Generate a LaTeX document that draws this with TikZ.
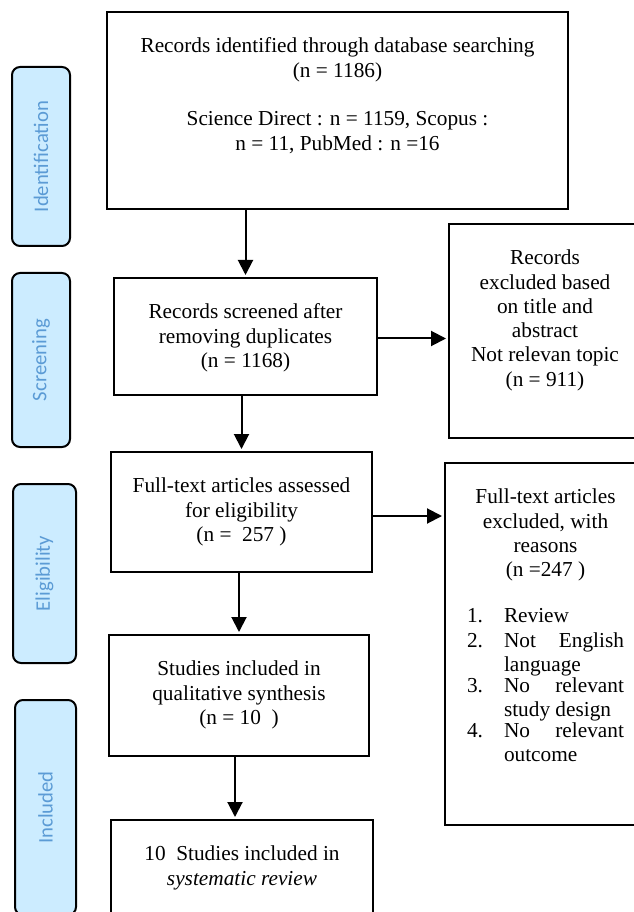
\documentclass[tikz,border=0pt]{standalone}
\usepackage{fontspec}
\setmainfont{Liberation Serif}
\newfontfamily\stagefont{Carlito}
\usetikzlibrary{arrows.meta}

\newlength{\px}
\setlength{\px}{0.75pt}
\definecolor{stagefill}{RGB}{204,236,255}
\definecolor{stagetext}{RGB}{91,155,213}

% box text: width, height, lines (top aligned)
\newcommand{\boxtext}[3]{\begin{minipage}[c][#2\px][t]{#1\px}\centering\vspace*{26\px}#3\end{minipage}}
\newcommand{\reason}[2]{\noindent\hspace*{22\px}\makebox[37\px][l]{#1}\parbox[t]{120\px}{#2}}

\begin{document}
\begin{tikzpicture}[x=0.75pt,y=-0.75pt,line width=1.5pt,
    flow/.style={-{Triangle[width=11.25pt,length=11.25pt]},shorten >=1.5pt}]

        \useasboundingbox (0,0) rectangle (634,912);

        \begin{scope}[every node/.style={draw,inner sep=0pt,anchor=north west,
            font=\fontsize{21.3\px}{24.3\px}\selectfont}]
          \node (ident)  at (106,11)  {\boxtext{461}{197}{Records identified through database searching\\
              (n = 1186)\\[24.3\px] Science Direct : n = 1159, Scopus :\\ n = 11, PubMed : n =16}};
          \node (screen) at (113,277) {\boxtext{263}{117}{Records screened after\\ removing duplicates\\ (n = 1168)}};
          \node (elig)   at (110,451) {\boxtext{261}{120}{Full-text articles assessed\\ for eligibility\\ (n = \ 257 )}};
          \node (qual)   at (108,634) {\boxtext{260}{121}{Studies included in\\ qualitative synthesis\\ (n = 10 \ )}};
          \node (incl)   at (110,819) {\boxtext{262}{130}{10 \ Studies included in\\ \textit{systematic review}}};
          \node (exclA)  at (448,223) {\boxtext{192}{214}{Records\\ excluded based\\ on title and\\ abstract\\
              Not relevan topic\\ (n = 911)}};
          \node (exclB)  at (444,462) {\boxtext{201}{362}{Full-text articles\\ excluded, with\\ reasons\\ (n =247 )\par
              \vspace{22\px}\raggedright
              \reason{1.}{Review}\par
              \reason{2.}{Not\hfill English\\language}\par
              \reason{3.}{No\hfill relevant\\study design}\par
              \reason{4.}{No\hfill relevant\\outcome}}};
        \end{scope}

        \begin{scope}[every node/.style={draw,fill=stagefill,rounded corners=6pt,rotate=90,inner sep=0pt,
            text=stagetext,font=\stagefont\fontsize{20.7\px}{24\px}\selectfont}]
          \node[minimum width=179\px,minimum height=58\px] (lblident)  at (41,156.5)  {Identification};
          \node[minimum width=174\px,minimum height=58\px] (lblscreen) at (41,360)    {Screening};
          \node[minimum width=179\px,minimum height=63\px] (lblelig)   at (44.5,573.5) {Eligibility};
          \node[minimum width=215\px,minimum height=61\px] (lblincl)   at (45.5,807.5) {Included};
        \end{scope}

        \draw[flow] (screen.north |- ident.south) -- (screen.north);
        \draw[flow] (elig.north |- screen.south) -- (elig.north);
        \draw[flow] (qual.north |- elig.south) -- (qual.north);
        \draw[flow] ([xshift=-3pt]qual.south) -- ([xshift=-3pt]qual.south |- incl.north);
        \draw[flow] ([yshift=-1.5pt]screen.east) -- ([yshift=-1.5pt]screen.east -| exclA.west);
        \draw[flow] ([yshift=-3pt]elig.east) -- ([yshift=-3pt]elig.east -| exclB.west);

      \end{tikzpicture}
\end{document}
